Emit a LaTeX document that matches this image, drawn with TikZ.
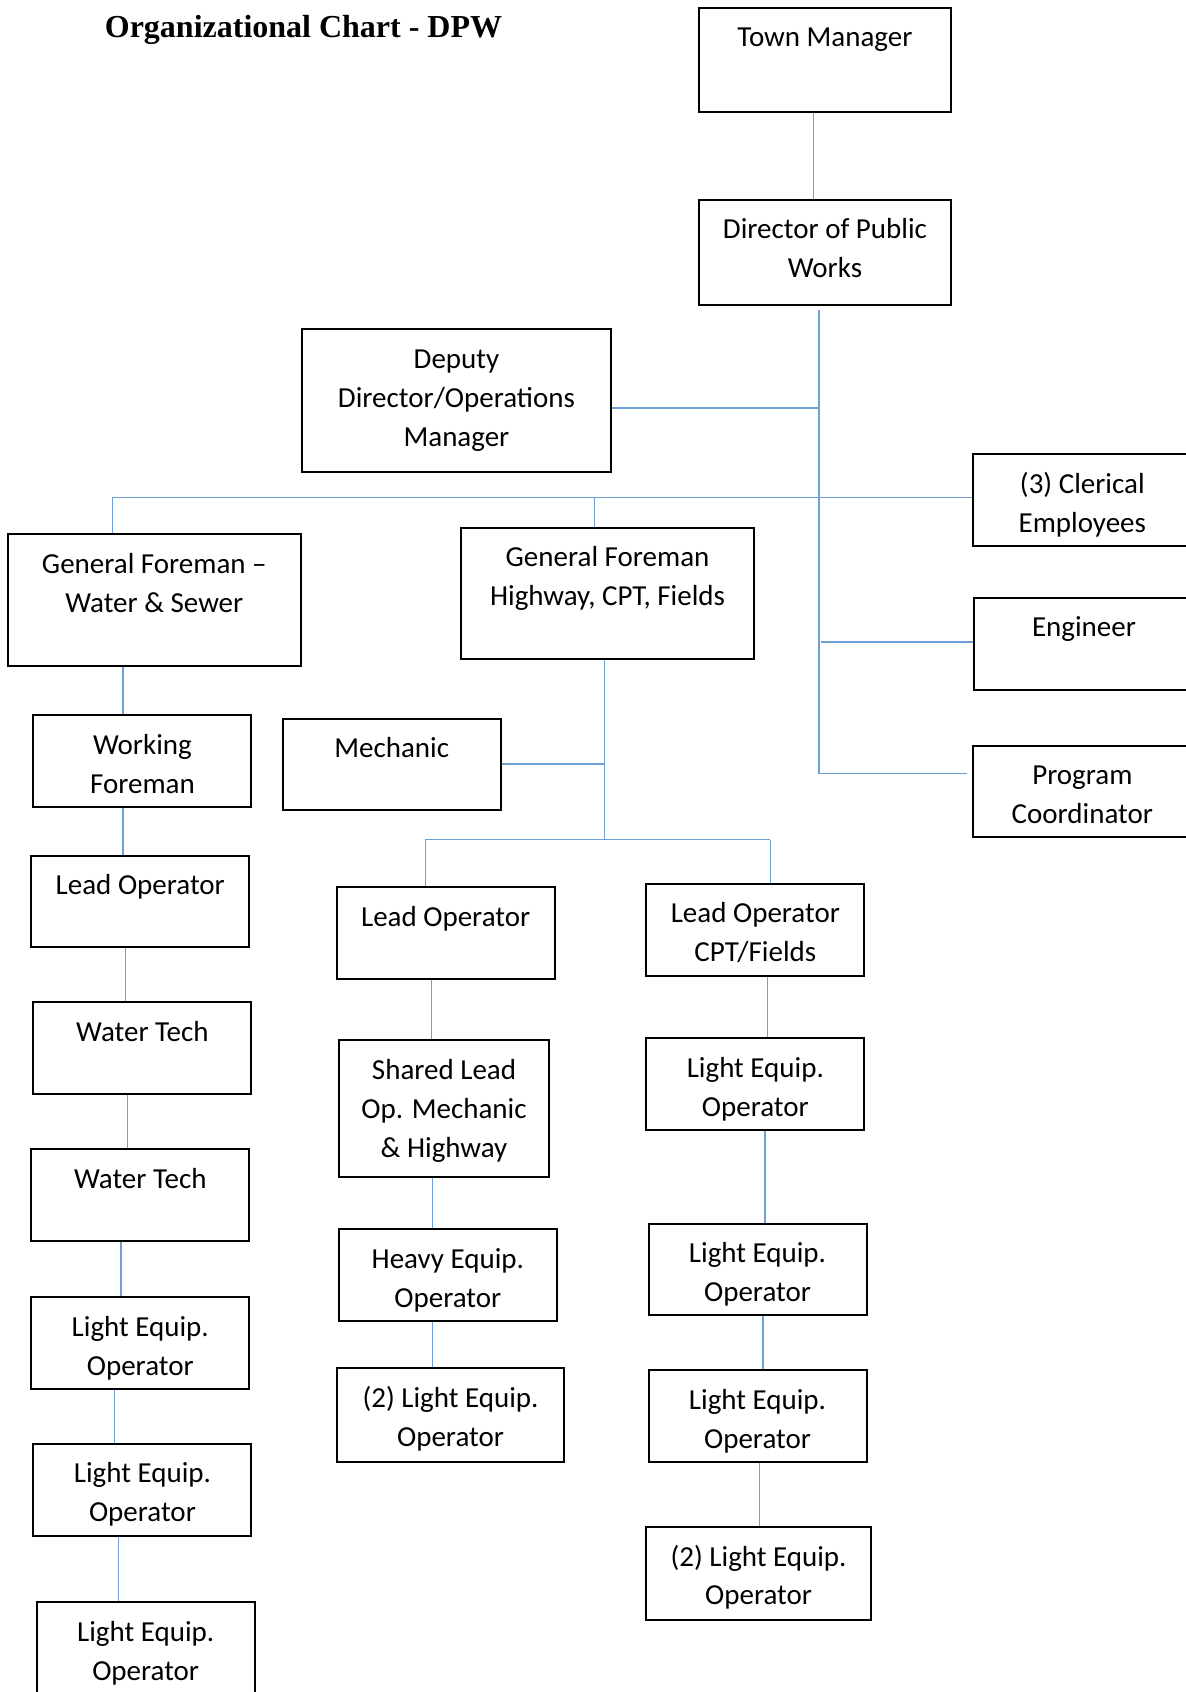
\documentclass[tikz,border=0pt]{standalone}
\usepackage{fontspec}
\setmainfont{Carlito}
\newfontfamily\titlefont{Liberation Serif}
\usetikzlibrary{fit}
\definecolor{linkblue}{RGB}{110,160,215}

\tikzset{
  box/.style={draw=black, line width=2pt, rectangle, inner sep=0pt, fill=none},
  boxtext/.style={font=\fontsize{29}{38.9}\selectfont, align=center, inner sep=0pt},
  link/.style={draw=linkblue, line width=1.3pt},
  heading/.style={font=\titlefont\bfseries\fontsize{32}{38}\selectfont, inner sep=0pt}
}

% box: name, x1, y1, x2, y2, text (text hangs from the top edge)
\newcommand{\orgbox}[6]{%
  \node[box, fit={(#2,#3) (#4,#5)}] (#1) {};
  \node[boxtext, anchor=north] (#1-t) at ([yshift=-12.7pt]#1.north) {\strut#6};
}

\begin{document}
\begin{tikzpicture}[x=1.0792pt, y=-1.0792pt]
\useasboundingbox (0,0) rectangle (1099,1568);

\node[heading, anchor=base west] (title) at (97,35) {Organizational Chart - DPW};

% top of the chart
\orgbox{tm}{648}{7}{881}{104}{Town Manager}
\orgbox{dir}{648}{185}{881}{283}{Director of Public\\Works}
\orgbox{dep}{280}{305}{566}{437}{Deputy\\Director/Operations\\Manager}

% staff reporting to the director
\orgbox{cler}{902}{421}{1104}{506}{(3) Clerical\\Employees}
\orgbox{eng}{903}{554}{1106}{639}{Engineer}
\orgbox{pc}{902}{691}{1104}{776}{Program\\Coordinator}

% general foremen
\orgbox{gfw}{7}{495}{279}{617}{General Foreman --\\Water \& Sewer}
\orgbox{gfh}{427}{489}{699}{611}{General Foreman\\Highway, CPT, Fields}

% water & sewer column
\orgbox{wf}{31}{663}{233}{748}{Working\\Foreman}
\orgbox{lol}{29}{793}{231}{878}{Lead Operator}
\orgbox{wta}{31}{929}{233}{1014}{Water Tech}
\orgbox{wtb}{29}{1065}{231}{1150}{Water Tech}
\orgbox{lea}{29}{1202}{231}{1287}{Light Equip.\\Operator}
\orgbox{leb}{31}{1338}{233}{1423}{Light Equip.\\Operator}
\orgbox{lec}{34}{1485}{236}{1572}{Light Equip.\\Operator}

% highway column
\orgbox{mech}{262}{666}{464}{751}{Mechanic}
\orgbox{lom}{312}{822}{514}{907}{Lead Operator}
\orgbox{slo}{314}{964}{509}{1091}{Shared Lead\\Op. Mechanic\\\& Highway}
\orgbox{heo}{314}{1139}{516}{1224}{Heavy Equip.\\Operator}
\orgbox{lem}{312}{1268}{523}{1355}{(2) Light Equip.\\Operator}

% CPT / fields column
\orgbox{loc}{599}{819}{801}{904}{Lead Operator\\CPT/Fields}
\orgbox{ra}{599}{962}{801}{1047}{Light Equip.\\Operator}
\orgbox{rb}{601}{1134}{803}{1219}{Light Equip.\\Operator}
\orgbox{rc}{601}{1270}{803}{1355}{Light Equip.\\Operator}
\orgbox{rd}{599}{1415}{807}{1501}{(2) Light Equip.\\Operator}

% junction points of the connectors
\coordinate (vtm) at (754,0);
\coordinate (trunk) at (759,717);
\coordinate (jdep) at (759,378);
\coordinate (jeng) at (761,595);
\coordinate (hl) at (104,461);
\coordinate (hm) at (551,461);
\coordinate (jh) at (560,778);
\coordinate (jmech) at (560,708);
\coordinate (hl2) at (394,778);
\coordinate (hr2) at (714,778);
\coordinate (x106) at (106,0);
\coordinate (x110) at (110,0);
\coordinate (x112) at (112,0);
\coordinate (x114) at (114,0);
\coordinate (x116) at (116,0);
\coordinate (x118) at (118,0);
\coordinate (x400) at (400,0);
\coordinate (x401) at (401,0);
\coordinate (x704) at (704,0);
\coordinate (x707) at (707,0);
\coordinate (x709) at (709,0);
\coordinate (x711) at (711,0);

% director level
\draw[link] (tm.south -| vtm) -- (dir.north -| vtm);
\draw[link, shorten <=4pt] (dir.south -| trunk) -- (trunk);
\draw[link] (dep.east |- jdep) -- (jdep);
\draw[link] (hl) -- (cler.west |- hl);
\draw[link] (hl) -- (gfw.north -| hl);
\draw[link] (hm) -- (gfh.north -| hm);
\draw[link] (jeng) -- (eng.west |- jeng);
\draw[link, shorten >=5pt] (trunk) -- (pc.west |- trunk);

% water & sewer chain
\draw[link] (gfw.south -| x114) -- (wf.north -| x114);
\draw[link] (wf.south -| x114) -- (lol.north -| x114);
\draw[link] (lol.south -| x116) -- (wta.north -| x116);
\draw[link] (wta.south -| x118) -- (wtb.north -| x118);
\draw[link] (wtb.south -| x112) -- (lea.north -| x112);
\draw[link] (lea.south -| x106) -- (leb.north -| x106);
\draw[link] (leb.south -| x110) -- (lec.north -| x110);

% highway and fields branch
\draw[link] (gfh.south -| jh) -- (jh);
\draw[link] (mech.east |- jmech) -- (jmech);
\draw[link] (hl2) -- (hr2);
\draw[link] (hl2) -- (lom.north -| hl2);
\draw[link] (hr2) -- (loc.north -| hr2);

\draw[link] (lom.south -| x400) -- (slo.north -| x400);
\draw[link] (slo.south -| x401) -- (heo.north -| x401);
\draw[link] (heo.south -| x401) -- (lem.north -| x401);

\draw[link] (loc.south -| x711) -- (ra.north -| x711);
\draw[link] (ra.south -| x709) -- (rb.north -| x709);
\draw[link] (rb.south -| x707) -- (rc.north -| x707);
\draw[link] (rc.south -| x704) -- (rd.north -| x704);
\end{tikzpicture}
\end{document}
